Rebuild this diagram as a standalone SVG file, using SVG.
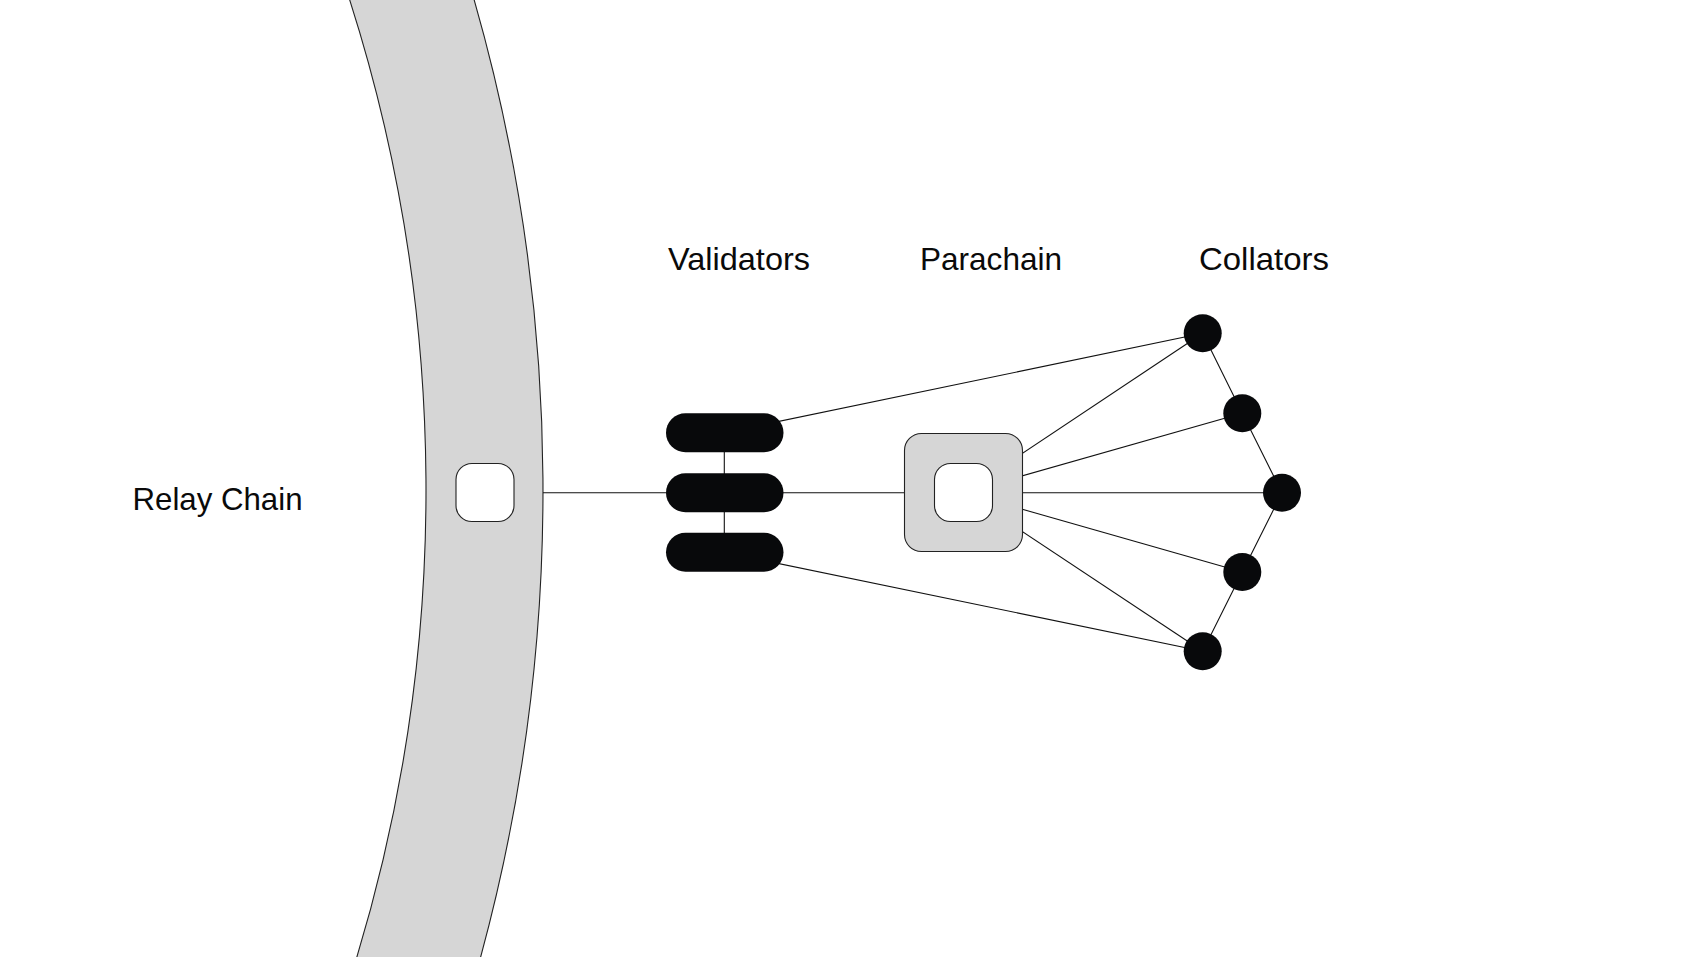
<svg xmlns="http://www.w3.org/2000/svg" width="1701" height="957" viewBox="0 0 1701 957">
<style>
.lbl{font-family:"Liberation Sans",Arial,Helvetica,sans-serif;font-size:32px;fill:#0a0a0a}
.ln{stroke:#111;stroke-width:1.1;fill:none}
.blk{fill:#08090b}
.gry{fill:#d6d6d6;stroke:#222;stroke-width:1.1}
.hole{fill:#fff;stroke:#222;stroke-width:1.1}
</style>
<rect width="1701" height="957" fill="#fff"/>
<g id="relay-chain">
<path class="gry" d="M 346.5 -10 A 1612 1612 0 0 1 353.8 967 L 477.9 967 A 1780 1780 0 0 0 471.3 -10 Z"/>
<rect class="hole" x="456" y="463.5" width="58" height="58" rx="16"/>
<text class="lbl" x="132.5" y="509.5" textLength="170" lengthAdjust="spacingAndGlyphs">Relay Chain</text>
</g>
<g id="connectors">
<line class="ln" x1="543" y1="492.7" x2="666" y2="492.7"/>
<line class="ln" x1="724.3" y1="432.7" x2="724.3" y2="552.3"/>
<line class="ln" x1="783" y1="492.7" x2="963.5" y2="492.7"/>
<line class="ln" x1="724.5" y1="432.7" x2="1202.7" y2="333.3"/>
<line class="ln" x1="724.5" y1="552.3" x2="1202.7" y2="651.3"/>
<line class="ln" x1="963.5" y1="492.5" x2="1202.7" y2="333.3"/>
<line class="ln" x1="963.5" y1="492.5" x2="1242.3" y2="413.3"/>
<line class="ln" x1="963.5" y1="492.7" x2="1282" y2="492.7"/>
<line class="ln" x1="963.5" y1="492.5" x2="1242.3" y2="572"/>
<line class="ln" x1="963.5" y1="492.5" x2="1202.7" y2="651.3"/>
<polyline class="ln" points="1202.7,333.3 1242.3,413.3 1282,492.7 1242.3,572 1202.7,651.3"/>
</g>
<g id="validators">
<rect class="blk" x="666" y="413.2" width="117.5" height="39" rx="19.5"/>
<rect class="blk" x="666" y="473.2" width="117.5" height="39" rx="19.5"/>
<rect class="blk" x="666" y="532.8" width="117.5" height="39" rx="19.5"/>
<text class="lbl" x="668" y="270" textLength="142" lengthAdjust="spacingAndGlyphs">Validators</text>
</g>
<g id="parachain">
<rect class="gry" x="904.5" y="433.5" width="118" height="118" rx="17"/>
<rect class="hole" x="934.5" y="463.5" width="58" height="58" rx="16"/>
<text class="lbl" x="920" y="270" textLength="142" lengthAdjust="spacingAndGlyphs">Parachain</text>
</g>
<g id="collators">
<circle class="blk" cx="1202.7" cy="333.3" r="19"/>
<circle class="blk" cx="1242.3" cy="413.3" r="19"/>
<circle class="blk" cx="1282" cy="492.7" r="19"/>
<circle class="blk" cx="1242.3" cy="572" r="19"/>
<circle class="blk" cx="1202.7" cy="651.3" r="19"/>
<text class="lbl" x="1199" y="270" textLength="130" lengthAdjust="spacingAndGlyphs">Collators</text>
</g>
</svg>
